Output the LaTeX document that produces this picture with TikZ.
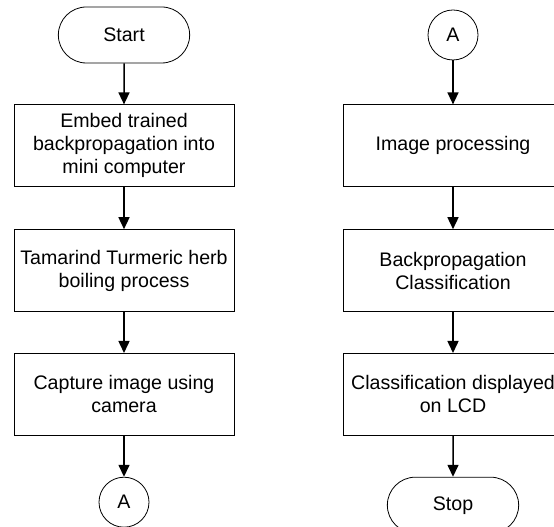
\documentclass[tikz,border=0pt]{standalone}
\usepackage{fontspec}
\setmainfont{Liberation Sans}
\usetikzlibrary{positioning,shapes.misc,arrows.meta}

\begin{document}
\begin{tikzpicture}[
    x=1pt, y=1pt, node distance=41pt,
    >={Triangle[length=12pt,width=11pt]},
    font=\fontsize{19.6}{23}\selectfont,
    process/.style={draw, line width=0.8pt, rectangle, align=center, minimum width=220pt, minimum height=82pt, inner sep=1pt},
    terminal/.style={draw, line width=0.8pt, rounded rectangle, minimum width=138pt, minimum height=56pt},
    connector/.style={draw, line width=0.8pt, circle, minimum size=50pt, inner sep=0pt},
    flow/.style={->, line width=1.5pt}
]
    \useasboundingbox (0,0) rectangle (554,527);

    % left column
    \node[terminal] (START) at (124,492) {Start};
    \node[process, below=of START] (EMBED) {Embed trained\\backpropagation into\\mini computer};
    \node[process, below=42pt of EMBED] (BOIL) {Tamarind Turmeric herb\\boiling process};
    \node[process, below=of BOIL] (CAPTURE) {Capture image using\\camera};
    \node[connector, below=of CAPTURE] (OUTA) {A};

    % right column
    \node[connector] (INA) at (453,492) {A};
    \node[process, below=44pt of INA] (IMGPROC) {Image processing};
    \node[process, below=42pt of IMGPROC] (BPCLASS) {Backpropagation\\Classification};
    \node[process, below=of BPCLASS] (LCD) {Classification displayed\\on LCD};
    \node[terminal, below=of LCD] (STOP) {Stop};

    \path (START)   edge[flow] (EMBED)
          (EMBED)   edge[flow] (BOIL)
          (BOIL)    edge[flow] (CAPTURE)
          (CAPTURE) edge[flow] (OUTA);

    \path (INA)     edge[flow] (IMGPROC)
          (IMGPROC) edge[flow] (BPCLASS)
          (BPCLASS) edge[flow] (LCD)
          (LCD)     edge[flow] (STOP);
\end{tikzpicture}
\end{document}
